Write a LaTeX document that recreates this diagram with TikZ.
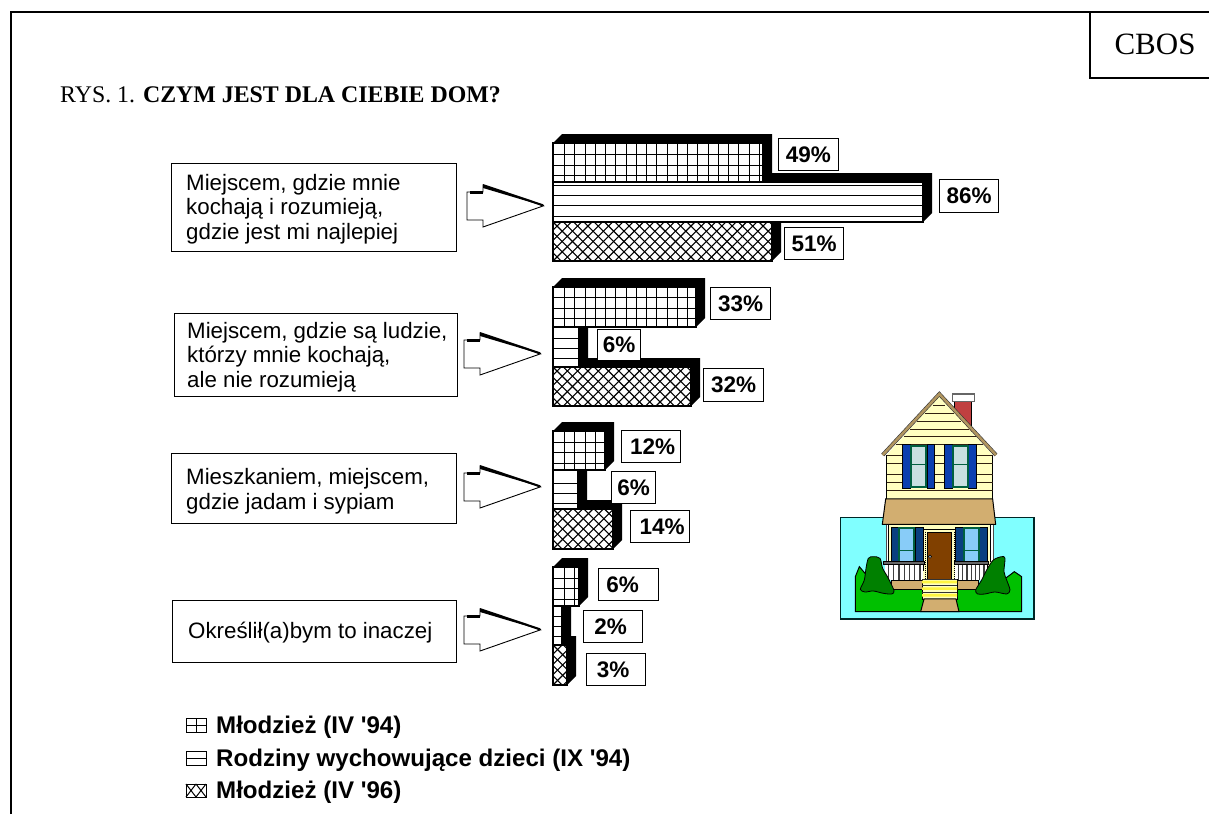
\documentclass[tikz,border=0pt]{standalone}
\usepackage{fontspec}
\setmainfont{Liberation Sans}
\newfontfamily\plainsans{Liberation Sans}
\newfontfamily\serifrm{Liberation Serif}
% front rectangle from x=553: #1 x1, #2 y0, #3 y1, #4 pattern (g,h,c), #5 phase of the first line
\newcommand{\threedbar}[5]{%
  \fill[black] (553,#2) -- ++(9,-9) -- (#1+9,#2-9) -- (#1+9,#3-9) -- (#1,#3) -- (#1,#2) -- cycle;
  \fill[white] (553,#2) rectangle (#1,#3);
  \begin{scope}
    \clip (553,#2) rectangle (#1,#3);
    \ifx g#4
      \foreach \k in {1,...,20}{\draw[hatchline] ({553+round(10.25*\k+.75)+.5},#2) -- ({553+round(10.25*\k+.75)+.5},#3);}
      \foreach \k in {0,...,2}{\draw[hatchline] (553,{#2+round(#5+10.5*\k)+.5}) -- (#1,{#2+round(#5+10.5*\k)+.5});}
    \fi
    \ifx h#4
      \foreach \k in {0,...,3}{\draw[hatchline] (553,{#2+round(#5+10.2*\k)+.5}) -- (#1,{#2+round(#5+10.2*\k)+.5});}
    \fi
    \ifx c#4
      \foreach \k in {-5,...,30}{
        \draw[crossline] (553+10.3*\k,#2) -- ++(40,40);
        \draw[crossline] (553+10.3*\k,#3) -- ++(40,-40);}
    \fi
  \end{scope}
  \draw[barframe] (553,#2) rectangle (#1,#3);
}
\newcommand{\fatarrow}[2]{%
  \draw[arrowline] (#1-76,#2-14) -- (#1-60,#2-14) -- (#1-60,#2-21) -- (#1,#2) -- (#1-60,#2+21) -- (#1-60,#2+14) -- (#1-76,#2+14) -- cycle;
  \fill (#1-60,#2-22) -- (#1,#2-1.8) -- (#1+1.5,#2+.3) -- (#1-60,#2-18) -- cycle;
  \draw[line width=2.4pt] (#1-73,#2-13.5) -- (#1-60,#2-13.5);
}
\tikzset{
  x=1pt,y=-1pt,
  hatchline/.style={line width=1.2pt,black},
  crossline/.style={line width=1.1pt,black},
  barframe/.style={line width=1.1pt,black},
  arrowline/.style={line width=.9pt,fill=white,line join=miter},
  textbox/.style={draw,line width=1.1pt,fill=white,anchor=north west,inner sep=0pt},
  boxtext/.style={anchor=west,align=left,inner sep=0pt,font=\fontsize{22.3}{24.5}\selectfont},
  pct/.style={draw,line width=1.2pt,fill=white,inner sep=0pt,font=\fontsize{22.5}{26}\selectfont\bfseries,anchor=north west},
  legend/.style={anchor=base west,inner sep=0pt,font=\plainsans\fontsize{24.1}{28}\selectfont\bfseries},
}
\begin{document}
\begin{tikzpicture}
\useasboundingbox (0,0) rectangle (1209,814);
\fill[white] (0,0) rectangle (1209,814);
% frame
\draw[line width=2.2pt] (11,814) -- (11,12) -- (1209,12);
\draw[line width=2pt] (1090,12) -- (1090,78) -- (1209,78);
\node[inner sep=0pt,font=\serifrm\fontsize{31}{36}\selectfont] (cbos) at (1155,44) {CBOS};
\node[anchor=base west,inner sep=0pt,font=\serifrm\fontsize{23.85}{28}\selectfont] (title) at (60,102) {RYS. 1. \textbf{CZYM JEST DLA CIEBIE DOM?}};
% text boxes
\node[textbox,minimum width=285pt,minimum height=88pt] (b1) at (171,163) {};
\node[boxtext] (t1) at (186,209) {Miejscem, gdzie mnie\\kochają i rozumieją,\\gdzie jest mi najlepiej};
\node[textbox,minimum width=283pt,minimum height=83pt] (b2) at (174,313) {};
\node[boxtext] (t2) at (187,357) {Miejscem, gdzie są ludzie,\\którzy mnie kochają,\\ale nie rozumieją};
\node[textbox,minimum width=285pt,minimum height=70pt] (b3) at (171,453) {};
\node[boxtext] (t3) at (186,491) {Mieszkaniem, miejscem,\\gdzie jadam i sypiam};
\node[textbox,minimum width=284pt,minimum height=62pt] (b4) at (172,600) {};
\node[boxtext] (t4) at (188,633) {Określił(a)bym to inaczej};
% arrows
\fatarrow{543}{206}
\fatarrow{540}{354}
\fatarrow{540}{487}
\fatarrow{540}{630}
% bars
\threedbar{772}{222}{261}{c}{0}
\threedbar{923}{182}{222}{h}{3}
\threedbar{763}{143}{182}{g}{11}
\threedbar{691}{367}{406}{c}{0}
\threedbar{579}{327}{367}{h}{11}
\threedbar{696}{287}{327}{g}{10}
\threedbar{613}{509}{549}{c}{0}
\threedbar{578}{470}{509}{h}{13}
\threedbar{605}{431}{470}{g}{10.5}
\threedbar{567}{645}{685}{c}{0}
\threedbar{562}{606}{645}{h}{10}
\threedbar{579}{567}{606}{g}{10.5}
% labels
\node[pct,minimum width=59.5pt,minimum height=32pt] (p49) at (778,138) {49\%};
\node[pct,minimum width=59pt,minimum height=33pt] (p86) at (939,179) {86\%};
\node[pct,minimum width=59pt,minimum height=32pt] (p51) at (784,227) {51\%};
\node[pct,minimum width=60pt,minimum height=32pt] (p33) at (710,287) {33\%};
\node[pct,minimum width=43pt,minimum height=31pt] (p6a) at (597,329) {6\%};
\node[pct,minimum width=60pt,minimum height=33pt] (p32) at (703,368) {32\%};
\node[pct,minimum width=59pt,minimum height=32pt] (p12) at (621,430) {\hspace*{3pt}12\%};
\node[pct,minimum width=44pt,minimum height=32pt] (p6b) at (611,471) {6\%};
\node[pct,minimum width=59pt,minimum height=32pt] (p14) at (630,510) {\hspace*{4pt}14\%};
\node[pct,minimum width=60pt,minimum height=32pt] (p6c) at (598,568) {6\%\hspace*{12pt}};
\node[pct,minimum width=59pt,minimum height=32pt] (p2) at (583,610) {2\%\hspace*{5pt}};
\node[pct,minimum width=59pt,minimum height=32pt] (p3) at (586,653) {3\%\hspace*{6pt}};
% legend
\node[legend] (l1) at (216,733) {Młodzież (IV '94)};
\node[legend] (l2) at (216,766) {Rodziny wychowujące dzieci (IX '94)};
\node[legend] (l3) at (216,798) {Młodzież (IV '96)};
\begin{scope}[line width=1pt]
\draw (186,718) rectangle (206,732) (186,725) -- (206,725) (196,718) -- (196,732);
\draw (186,751) rectangle (206,765) (186,758) -- (206,758);
\draw (186,784) rectangle (206,797);
\draw (186,784) -- (196,797) (196,784) -- (186,797) (196,784) -- (206,797) (206,784) -- (196,797);
\end{scope}
% house
\begin{scope}[shift={(830,380)},x=.3333pt,y=-.3333pt]
\definecolor{sky}{HTML}{80FFFF}\definecolor{grass}{HTML}{00C000}\definecolor{bush}{HTML}{008000}
\definecolor{siding}{HTML}{FFFFC0}\definecolor{tan1}{HTML}{D2AE70}\definecolor{roofb}{HTML}{B09560}
\definecolor{blu}{HTML}{0A3FB0}\definecolor{nav}{HTML}{0A3F80}\definecolor{pane}{HTML}{C8E0E0}\definecolor{paneb}{HTML}{88CCF8}
\definecolor{doorb}{HTML}{804000}\definecolor{chim}{HTML}{C04040}\definecolor{wgreen}{HTML}{006040}
\draw[fill=sky,draw=black!70!teal,line width=1.4pt] (32,413) rectangle (612,717);
\draw[fill=grass,line width=1pt] (76,695) -- (76,590) -- (88,560) -- (105,580) -- (150,628) -- (480,628) -- (540,585) -- (553,575) -- (575,590) -- (575,695) -- cycle;
% chimney
\draw[fill=chim,line width=.8pt] (373,65) rectangle (425,160);
\draw[fill=white,draw=black!60,line width=1.1pt] (368,42) rectangle (433,65);
% upper wall & gable
\fill[siding] (170,225) -- (328,48) -- (488,225) -- (488,357) -- (170,357) -- cycle;
\draw[line width=.8pt] (170,225) -- (170,357) -- (488,357) -- (488,225);
\foreach \yy/\xa/\xb in {75/310/346, 100/285/371, 124/262/394, 147/240/416, 170/222/438, 192/198/458,
  225/170/488, 250/170/488, 284/170/488, 308/170/488, 333/170/488}{
  \draw[line width=1pt,black!75!brown] (\xa,\yy) -- (\xb,\yy);
}
\draw[line width=3.8pt,black!80,line join=miter] (158,225) -- (328,42) -- (498,225);
\draw[roofb,line width=2.6pt,line join=miter] (158,225) -- (328,42) -- (498,225);
% upper windows
\foreach \wx in {0,125}{
  \draw[fill=blu,line width=.5pt] (218+\wx,193) rectangle (241+\wx,325);
  \draw[fill=blu,line width=.5pt] (291+\wx,193) rectangle (314+\wx,325);
  \draw[fill=pane,draw=wgreen,line width=1.7pt] (243+\wx,197) rectangle (289+\wx,322);
  \draw[wgreen,line width=1.5pt] (243+\wx,254) -- (289+\wx,254);
}
% lower storey
\fill[siding] (168,433) rectangle (490,600);
\fill[white] (168,433) rectangle (176,545) (482,433) rectangle (490,545);
\draw[line width=.8pt] (176,433) -- (176,545) (482,433) -- (482,545);
\draw[line width=.8pt,black!70] (168,433) -- (168,545) (490,433) -- (490,545);
\draw[line width=.8pt] (280,449) -- (375,449);
\draw[densely dotted,line width=1pt] (285,455) -- (285,595) (372,455) -- (372,595);
% lower windows
\foreach \wx/\wa/\wb in {0/183/256,194/376/448}{
  \draw[fill=nav,line width=.5pt] (\wa,443) rectangle (\wa+23,570);
  \draw[fill=nav,line width=.5pt] (\wb,443) rectangle (\wb+23,570);
  \draw[fill=paneb,draw=wgreen,line width=1.7pt] (208+\wx,445) rectangle (253+\wx,570);
  \draw[wgreen,line width=1.5pt] (208+\wx,512) -- (253+\wx,512);
}
% door
\draw[fill=doorb,line width=.8pt] (293,457) rectangle (365,598);
\draw[fill=black!40,line width=.4pt] (300,530) circle (5);
% awning
\draw[fill=tan1,line width=1pt] (167,357) -- (488,357) -- (497,433) -- (157,433) -- cycle;
% railings
\foreach \ra/\rb in {165/280,375/472}{
  \fill[white] (\ra,550) rectangle (\rb,600);
  \foreach \k in {0,...,6}{\draw[line width=1.3pt,black!75] ({\ra+10+(\rb-\ra-20)/6*\k},550) -- ({\ra+10+(\rb-\ra-20)/6*\k},600);}
}
\draw[fill=black!60,line width=.5pt] (160,544) rectangle (284,552);
\draw[fill=black!60,line width=.5pt] (372,544) rectangle (476,552);
% base and steps
\draw[fill=tan1,line width=.8pt] (185,602) rectangle (445,628);
\draw[fill=siding,line width=.9pt] (276,598) rectangle (381,657);
\fill[yellow!75!white] (276,602) rectangle (381,610) (276,622) rectangle (381,630) (276,642) rectangle (381,650);
\draw[line width=1.1pt,black!80] (276,598) -- (381,598) (276,617) -- (381,617) (276,637) -- (381,637);
\draw[fill=tan1,line width=1pt] (282,657) -- (378,657) -- (387,695) -- (272,695) -- cycle;
% bushes
\draw[fill=bush,line width=.8pt] plot[smooth cycle,tension=.5] coordinates {(91,628) (103,600) (108,565) (115,535) (130,530) (150,535) (158,565) (175,595) (192,632) (185,642) (160,640) (130,633) (105,636)};
\draw[fill=bush,line width=.8pt] plot[smooth cycle,tension=.5] coordinates {(437,630) (455,600) (470,570) (490,540) (515,530) (525,535) (522,575) (530,600) (540,630) (530,642) (495,636) (465,642) (443,642)};
\end{scope}
\end{tikzpicture}
\end{document}
